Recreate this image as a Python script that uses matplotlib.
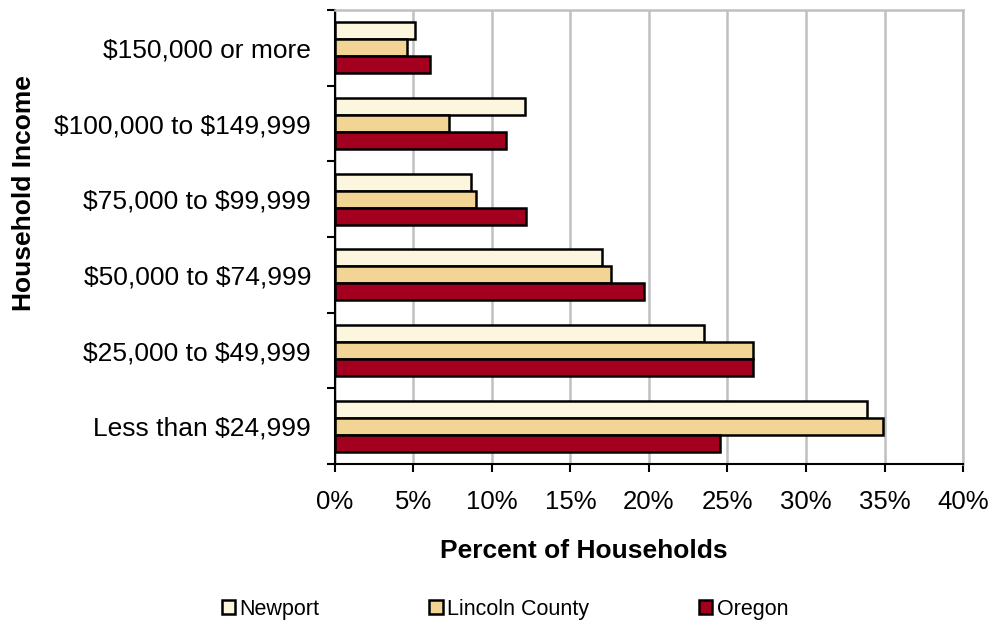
import matplotlib
matplotlib.use("Agg")
import matplotlib.pyplot as plt
import numpy as np
from matplotlib.ticker import FuncFormatter, MultipleLocator

plt.rcParams["font.family"] = ["Liberation Sans", "DejaVu Sans"]
plt.rcParams["text.parse_math"] = False

categories = ["Less than $24,999", "$25,000 to $49,999", "$50,000 to $74,999",
              "$75,000 to $99,999", "$100,000 to $149,999", "$150,000 or more"]
newport = [33.9, 23.5, 17.0, 8.7, 12.1, 5.1]
lincoln = [34.9, 26.6, 17.6, 9.0, 7.3, 4.6]
oregon = [24.5, 26.6, 19.7, 12.2, 10.9, 6.1]
series_names = ["Newport", "Lincoln County", "Oregon"]
colors = ["#fdf6df", "#f2d594", "#a3001f"]

fig = plt.figure(figsize=(9.96, 6.22), dpi=100)
ax = fig.add_axes([0.336, 0.2540, 0.631, 0.7298])

y = np.arange(len(categories))
h = 0.225
for vals, off, name, c in zip([newport, lincoln, oregon], [h, 0, -h],
                              series_names, colors):
    ax.barh(y + off, vals, height=h, color=c, edgecolor="black",
            linewidth=1.8, label=name, zorder=3)

ax.set_xlim(0, 40)
ax.set_ylim(-0.5, len(categories) - 0.5)
ax.xaxis.set_major_locator(MultipleLocator(5))
ax.xaxis.set_major_formatter(FuncFormatter(lambda v, p: f"{v:.0f}%"))
ax.grid(axis="x", color="#c0c0c0", linewidth=1.8, zorder=0)
ax.set_axisbelow(True)

ax.set_yticks(y)
ax.set_yticklabels(categories)
ax.set_yticks(np.arange(-0.5, len(categories)), minor=True)
ax.tick_params(axis="y", which="major", length=0, pad=17, labelsize=19)
ax.tick_params(axis="y", which="minor", length=6, width=1.5, direction="out")
ax.tick_params(axis="x", length=6, width=1.5, direction="out", pad=13,
               labelsize=18.5)

for s in ["left", "bottom"]:
    ax.spines[s].set_linewidth(1.5)
    ax.spines[s].set_color("black")
for s in ["top", "right"]:
    ax.spines[s].set_linewidth(1.8)
    ax.spines[s].set_color("#c0c0c0")

fig.text(584 / 996, 1 - 551 / 622, "Percent of Households", ha="center",
         va="center", fontsize=19, fontweight="bold")
fig.text(24 / 996, 1 - 193 / 622, "Household Income", ha="center",
         va="center", rotation=90, fontsize=19, fontweight="bold")

fig.legend(loc="center left", bbox_to_anchor=(222 / 996, 1 - 609 / 622),
           ncol=3, frameon=False, fontsize=15.5, handlelength=0.62,
           handleheight=0.62, handletextpad=0.2, columnspacing=5.1,
           borderpad=0, borderaxespad=0)

fig.savefig("out.png", dpi=100)
